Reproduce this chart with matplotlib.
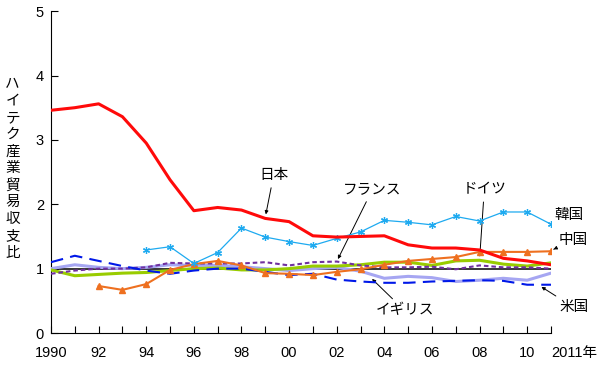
import numpy as np
import matplotlib
matplotlib.use("Agg")
import matplotlib.pyplot as plt

plt.rcParams["font.family"] = ["Liberation Sans", "Noto Sans CJK JP", "DejaVu Sans"]
JP = ["Noto Sans CJK JP", "DejaVu Sans"]

years = np.arange(1990, 2012)

japan = [3.46, 3.50, 3.56, 3.36, 2.95, 2.38, 1.90, 1.95, 1.91, 1.78, 1.73,
         1.51, 1.49, 1.50, 1.51, 1.37, 1.32, 1.32, 1.29, 1.16, 1.12, 1.06]
korea_years = np.arange(1994, 2012)
korea = [1.29, 1.34, 1.08, 1.25, 1.63, 1.49, 1.42, 1.36, 1.47, 1.57,
         1.75, 1.72, 1.68, 1.81, 1.74, 1.88, 1.88, 1.69]
china_years = np.arange(1992, 2012)
china = [0.73, 0.67, 0.76, 0.98, 1.07, 1.12, 1.05, 0.93, 0.92, 0.90,
         0.95, 0.99, 1.06, 1.12, 1.15, 1.18, 1.26, 1.26, 1.26, 1.27]
usa = [1.10, 1.20, 1.12, 1.04, 0.97, 0.92, 0.97, 1.00, 1.00, 0.95, 0.90,
       0.92, 0.83, 0.80, 0.78, 0.78, 0.80, 0.81, 0.82, 0.81, 0.75, 0.75]
uk = [1.00, 1.06, 1.02, 1.00, 1.02, 1.06, 1.05, 1.05, 1.03, 1.00, 0.97,
      1.00, 1.02, 0.96, 0.85, 0.88, 0.86, 0.80, 0.82, 0.85, 0.82, 0.93]
france = [0.92, 0.97, 1.00, 1.00, 1.02, 1.09, 1.08, 1.08, 1.08, 1.10, 1.05,
          1.10, 1.11, 1.05, 1.02, 1.02, 1.03, 0.99, 1.05, 1.02, 1.02, 1.00]
germany = [0.98, 0.89, 0.91, 0.93, 0.94, 0.97, 1.00, 1.01, 0.98, 0.98, 1.00,
           1.04, 1.04, 1.06, 1.10, 1.10, 1.05, 1.12, 1.13, 1.07, 1.04, 1.09]

xtick_pos = [1990, 1992, 1994, 1996, 1998, 2000, 2002, 2004, 2006, 2008, 2010, 2011]
xtick_labels = ["1990", "92", "94", "96", "98", "00", "02", "04", "06", "08", "10", "2011年"]

fig = plt.figure(figsize=(6.0, 3.71), dpi=100)
ax = fig.add_axes([0.085, 0.1024, 0.8333, 0.8676])

ax.axhline(1, color="black", lw=1.1, zorder=2)
ax.plot(years, uk, color="#a6a6f2", lw=2.2, zorder=3)
ax.plot(years, germany, color="#99cc00", lw=2.2, zorder=3)
ax.plot(years, france, color="#7030a0", lw=1.5, dashes=(2.2, 1.4), zorder=4)
ax.plot(years, usa, color="#0018e8", lw=1.5, dashes=(6, 3.5), zorder=4)
ax.plot(china_years, china, color="#ee7020", lw=1.5, marker="^", ms=4.5, zorder=5)
ax.plot(korea_years, korea, color="#1eaaf0", lw=0.9, marker=(6, 2, 0), ms=5, mew=0.9, zorder=5)
ax.plot(years, japan, color="#ff0a0a", lw=2.2, zorder=6)

ax.set_xlim(1990, 2011)
ax.set_ylim(0, 5)
ax.set_yticks([0, 1, 2, 3, 4, 5])
ax.set_xticks(years, minor=True)
ax.set_xticks(xtick_pos)
ax.set_xticklabels(xtick_labels, family=["Liberation Sans", "Noto Sans CJK JP"])
ax.get_xticklabels()[-1].set_horizontalalignment("left")
ax.tick_params(direction="in", labelsize=10.5, length=5, width=0.8)
ax.tick_params(axis="x", which="minor", direction="in", length=5, width=0.8)
ax.tick_params(axis="x", pad=9)
ax.tick_params(axis="y", pad=5)
ax.spines["top"].set_visible(False)
ax.spines["right"].set_visible(False)

# vertical y label, one character per line
ylab = "ハイテク産業貿易収支比"
fig.text(0.021, 0.546, "\n".join(ylab), ha="center", va="center", fontsize=10.5,
         family=JP, linespacing=1.26)

arrow = dict(arrowstyle="-|>", color="black", lw=0.7, mutation_scale=5)
fs = 10.5
ax.annotate("日本", xy=(1999.0, 1.80), xytext=(1999.35, 2.45), fontsize=fs,
            family=JP, ha="center", va="center", arrowprops=arrow)
ax.annotate("フランス", xy=(2002.0, 1.11), xytext=(2003.5, 2.23), fontsize=fs,
            family=JP, ha="center", va="center", arrowprops=arrow)
ax.annotate("ドイツ", xy=(2008.0, 1.14), xytext=(2008.2, 2.23), fontsize=fs,
            family=JP, ha="center", va="center", arrowprops=arrow)
ax.text(2011.75, 1.83, "韓国", fontsize=fs, family=JP, ha="center", va="center")
ax.annotate("中国", xy=(2011.0, 1.28), xytext=(2011.95, 1.45), fontsize=fs,
            family=JP, ha="center", va="center", arrowprops=arrow)
ax.annotate("米国", xy=(2010.5, 0.74), xytext=(2011.95, 0.40), fontsize=fs,
            family=JP, ha="center", va="center", arrowprops=arrow)
ax.annotate("イギリス", xy=(2003.4, 0.87), xytext=(2004.85, 0.35), fontsize=fs,
            family=JP, ha="center", va="center", arrowprops=arrow)

fig.savefig("out.png", dpi=100)
